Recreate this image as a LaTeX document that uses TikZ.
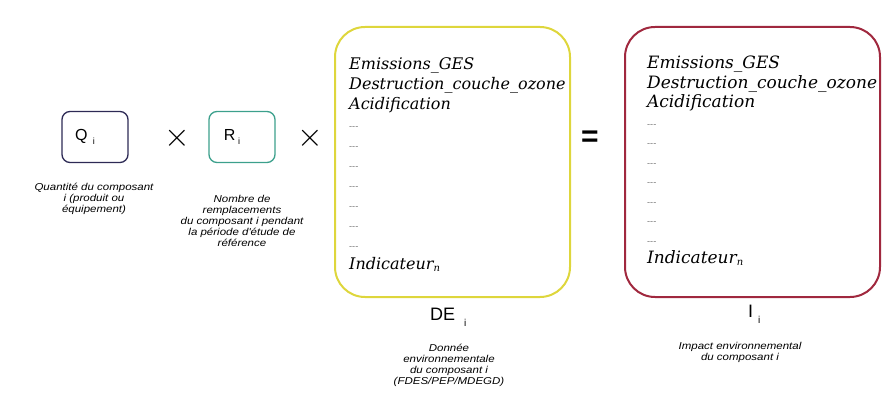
\documentclass[tikz,border=0pt]{standalone}
\usepackage{fontspec}
\usetikzlibrary{positioning}

\newfontfamily\listfont{DejaVu Serif}
\newfontfamily\captionfont[FakeStretch=1.15]{Liberation Sans}
\newfontfamily\termfont{Liberation Sans}

\definecolor{qborder}{RGB}{45,42,85}
\definecolor{rborder}{RGB}{60,160,140}
\definecolor{deborder}{RGB}{222,214,60}
\definecolor{iborder}{RGB}{160,40,62}

\begin{document}
\begin{tikzpicture}[x=1pt,y=1pt,
			term node/.style={draw,line width=1.3pt,rounded corners=8pt,minimum width=66pt,minimum height=51pt,font=\termfont\fontsize{16}{18}\selectfont},
			name node/.style={inner sep=0pt,font=\termfont\fontsize{18}{20}\selectfont},
			list box/.style={draw,line width=2pt,rounded corners=30pt,minimum height=270pt},
			list text/.style={anchor=north west,align=left,inner sep=0pt,font=\listfont\itshape\fontsize{16}{20}\selectfont},
			caption/.style={align=center,inner sep=0pt,font=\captionfont\itshape\fontsize{10}{11}\selectfont},
			op/.style={inner sep=0pt}
			]
			
			\def\gap{{\fontsize{9}{20}\selectfont\color{black!55}-{}-{}-}}
			\def\indicators{Emissions\_GES\\Destruction\_couche\_ozone\\Acidification\\
				\gap\\\gap\\\gap\\\gap\\\gap\\\gap\\\gap\\
				Indicateur\raisebox{-2pt}{\fontsize{10}{10}\selectfont n}}
			
			\useasboundingbox (0,0) rectangle (884,-393);
			
			% terms of the product
			\node[term node,draw=qborder] (Q) at (95,-137) {Q\,\,\raisebox{-4pt}{\small i}\kern20pt};
			\node[op] (times1) at (177,-138) {\scalebox{3.3}{$\times$}};
			\node[term node,draw=rborder] (R) at (242,-137) {R\,\raisebox{-4pt}{\small i}\kern20pt};
			\node[op] (times2) at (310,-138) {\scalebox{3.3}{$\times$}};
			
			\node[list box,draw=deborder,minimum width=235pt] (DE) at (452.5,-162) {};
			\node[list text] (DEtext) at (349,-57) {\indicators};
			
			\node[op,font=\termfont\bfseries\fontsize{30}{30}\selectfont] (equals) at (590,-139) {=};
			
			\node[list box,draw=iborder,minimum width=255pt] (I) at (752.5,-162) {};
			\node[list text,font=\listfont\itshape\fontsize{17}{19.5}\selectfont] (Itext) at (647,-56) {\indicators};
			
			% names under the boxes
			\node[name node,anchor=west] (DEname) at (430,-317) {DE\hspace{9pt}\raisebox{-6pt}{\fontsize{10}{10}\selectfont i}};
			\node[name node,anchor=west] (Iname) at (748,-314) {I\hspace{5pt}\raisebox{-6pt}{\fontsize{10}{10}\selectfont i}};
			
			% captions
			\node[caption] (Qcap) at (94,-199) {Quantité du composant\\i (produit ou\\équipement)};
			\node[caption] (Rcap) at (242,-221) {Nombre de\\remplacements\\du composant i pendant\\la période d'étude de\\référence};
			\node[caption] (DEcap) at (449,-365) {Donnée\\environnementale\\du composant i\\(FDES/PEP/MDEGD)};
			\node[caption] (Icap) at (740,-352) {Impact environnemental\\du composant i};
			
\end{tikzpicture}
\end{document}
